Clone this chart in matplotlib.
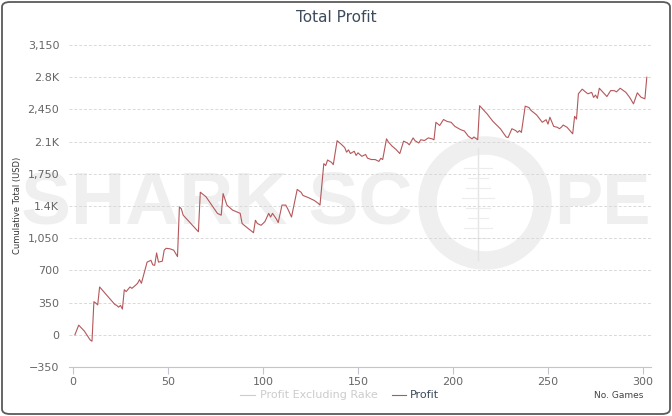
import matplotlib
matplotlib.use("Agg")
import matplotlib.pyplot as plt
from matplotlib.patches import FancyBboxPatch, Wedge
from matplotlib.lines import Line2D
from matplotlib.transforms import IdentityTransform

# Cumulative profit at its turning points
games = [1, 3, 6, 9, 10, 11, 12, 13, 14, 22, 23, 24, 25, 26, 27, 28, 30, 31, 33, 34,
         35, 36, 39, 41, 42, 43, 44, 45, 47, 48, 49, 51, 53, 55, 56, 57, 58, 62, 66, 67,
         70, 73, 76, 78, 79, 81, 84, 88, 89, 91, 95, 96, 97, 99, 101, 103, 104, 105, 107, 108,
         110, 112, 113, 115, 118, 120, 121, 124, 127, 129, 130, 132, 133, 134, 136, 137, 139, 141, 143, 144,
         145, 146, 148, 149, 150, 152, 154, 155, 157, 159, 161, 162, 163, 165, 166, 168, 170, 172, 174, 176,
         177, 179, 180, 182, 183, 185, 187, 189, 190, 191, 193, 195, 197, 199, 201, 204, 206, 208, 210, 211,
         213, 214, 218, 221, 225, 228, 229, 231, 233, 234, 235, 236, 238, 240, 241, 244, 247, 249, 250, 251,
         253, 255, 256, 257, 258, 260, 263, 264, 265, 266, 268, 270, 271, 273, 274, 275, 276, 277, 279, 281,
         283, 285, 286, 288, 291, 293, 295, 297, 299, 301, 302]
profit = [0, 105, 40, -55, -70, 360, 345, 325, 520, 330, 320, 300, 320, 280, 490, 470, 520, 505, 540, 560,
          600, 560, 790, 810, 760, 755, 890, 790, 800, 920, 940, 935, 920, 850, 1390, 1370, 1300, 1210, 1120, 1550,
          1500, 1410, 1320, 1300, 1535, 1410, 1355, 1320, 1210, 1175, 1110, 1245, 1210, 1190, 1230, 1320, 1280, 1320, 1260, 1220,
          1410, 1410, 1370, 1280, 1580, 1550, 1515, 1490, 1460, 1430, 1410, 1860, 1840, 1900, 1875, 1850, 2110, 2075, 2035, 1985,
          2010, 1970, 1995, 1950, 1978, 1940, 1960, 1920, 1905, 1905, 1885, 1918, 1905, 2130, 2095, 2050, 2015, 1970, 2105, 2085,
          2065, 2140, 2110, 2085, 2120, 2112, 2140, 2130, 2120, 2310, 2275, 2340, 2318, 2310, 2265, 2230, 2215, 2160, 2130, 2150,
          2120, 2490, 2400, 2320, 2238, 2150, 2145, 2240, 2220, 2200, 2220, 2200, 2485, 2470, 2440, 2390, 2310, 2338, 2290, 2365,
          2265, 2255, 2240, 2256, 2280, 2256, 2185, 2375, 2345, 2620, 2670, 2635, 2620, 2635, 2580, 2606, 2570, 2680, 2635, 2590,
          2655, 2653, 2640, 2680, 2635, 2580, 2510, 2630, 2582, 2565, 2800]

y_ticks = [-350, 0, 350, 700, 1050, 1400, 1750, 2100, 2450, 2800, 3150]
y_labels = ["\u2212350", "0", "350", "700", "1,050", "1.4K", "1,750", "2.1K", "2,450", "2.8K", "3,150"]
x_ticks = [0, 50, 100, 150, 200, 250, 300]

W, H = 672, 416
fig = plt.figure(figsize=(W / 100, H / 100), dpi=100)
ax = fig.add_axes([69 / W, 1 - 367 / H, (651 - 69) / W, (367 - 45) / H])
ax.set_facecolor("none")

# rounded outer frame
fig.patches.append(FancyBboxPatch((2 / W, 2 / H), (W - 4) / W, (H - 4) / H,
                                  boxstyle="round,pad=0,rounding_size=0.012",
                                  transform=fig.transFigure, fill=False,
                                  edgecolor="#5a5a5a", linewidth=1.3))

# SharkScope watermark (pixel coords, y measured from the bottom)
wm = "#efefef"
ident = IdentityTransform()
ax.text(21, H - 224, "SHARK SC", transform=ident, fontsize=54, fontweight="bold",
        family="Liberation Sans", color=wm, ha="left", va="baseline", zorder=0.1, clip_on=False)
ax.text(554, H - 224, "PE", transform=ident, fontsize=52, fontweight="bold",
        family="Liberation Sans", color=wm, ha="left", va="baseline", zorder=0.1, clip_on=False)
ax.add_patch(Wedge((485, H - 203), 66, 0, 360, width=17, transform=ident,
                   color=wm, zorder=0.1, clip_on=False))
ax.add_line(Line2D([478, 478], [H - 148, H - 260], transform=ident, color="#e4e4e4",
                   lw=1, zorder=0.15, clip_on=False))
for yy, half in [(168, 14), (178, 10), (188, 12), (198, 16), (208, 12), (218, 10), (228, 14), (238, 9)]:
    ax.add_line(Line2D([478 - half, 478 + half], [H - yy, H - yy], transform=ident,
                       color="#ececec", lw=0.8, zorder=0.15, clip_on=False))

ax.plot(games, profit, color="#b5575a", lw=0.8, zorder=3)

ax.set_xlim(-4 / 1.9, (651 - 73) / 1.9)
ax.set_ylim(-350, 3150)
ax.set_yticks(y_ticks)
ax.set_yticklabels(y_labels)
ax.set_xticks(x_ticks)

for v in y_ticks[1:]:
    ax.axhline(v, color="#d9d9d9", lw=0.7, ls=(0, (3, 2)), zorder=0.5)

for s in ["top", "right", "left"]:
    ax.spines[s].set_visible(False)
ax.spines["bottom"].set_color("#c0c6cc")
ax.spines["bottom"].set_linewidth(0.8)
ax.tick_params(axis="y", length=0, pad=7, labelsize=8, labelcolor="#666666")
ax.tick_params(axis="x", length=5, width=0.8, color="#c0c6cc", pad=2,
               labelsize=8, labelcolor="#666666")

fig.text(0.5, 1 - 18 / H, "Total Profit", ha="center", va="center",
         fontsize=11, color="#3d4b5c")
fig.text(18 / W, 1 - 205 / H, "Cumulative Total (USD)", rotation=90, ha="center",
         va="center", fontsize=6, color="#333333")
fig.text(643 / W, 1 - 395 / H, "No. Games", ha="right", va="center",
         fontsize=6.5, color="#444444")

# legend
ly = 1 - 395 / H
fig.add_artist(Line2D([240 / W, 255 / W], [ly, ly], color="#cccccc", lw=0.8))
fig.text(260 / W, ly, "Profit Excluding Rake", ha="left", va="center",
         fontsize=8, color="#cccccc")
fig.add_artist(Line2D([392 / W, 406 / W], [ly, ly], color="#b5575a", lw=0.8))
fig.text(410 / W, ly, "Profit", ha="left", va="center", fontsize=8, color="#3d4b5c")

fig.savefig("out.png", dpi=100)
